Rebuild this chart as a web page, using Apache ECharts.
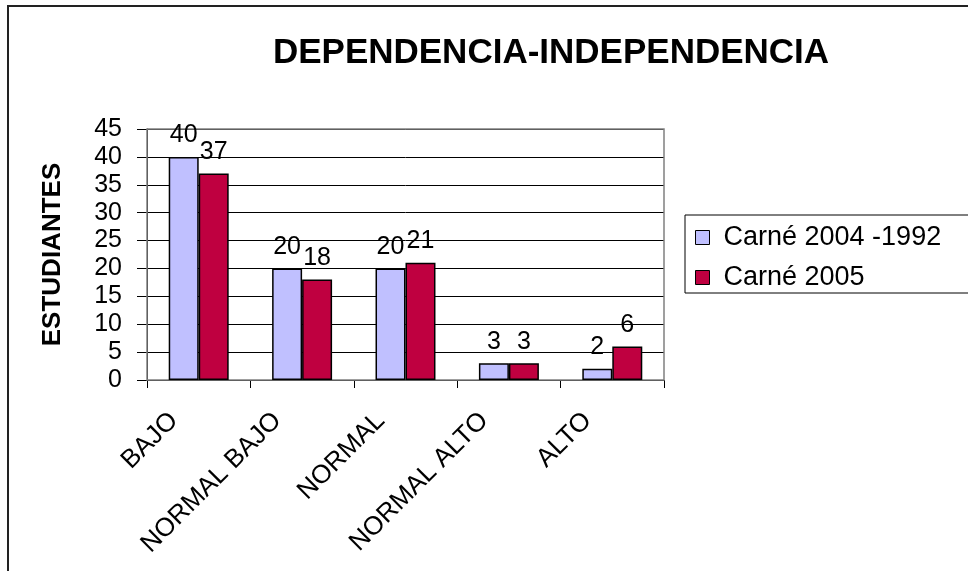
<!DOCTYPE html>
<html lang="es">
<head>
    <meta charset="UTF-8">
    <title>Dependencia-Independencia</title>
    <style>
        html, body { margin: 0; padding: 0; background: white; }
        #chart { width: 968px; height: 571px; }
    </style>
    <script src="https://cdn.jsdelivr.net/npm/echarts@6/dist/echarts.min.js"></script>
</head>
<body>
<div id="chart"></div>
<script>
    // datos
    const categorias = ['BAJO', 'NORMAL BAJO', 'NORMAL', 'NORMAL ALTO', 'ALTO'];
    const carne2004 = [40, 20, 20, 3, 2];
    const carne2005 = [37, 18, 21, 3, 6];
    const nombres = ['Carné 2004 -1992', 'Carné 2005'];

    const fuente = 'Liberation Sans, Arial, sans-serif';
    const chart = echarts.init(document.getElementById('chart'), null, {renderer: 'canvas'});

    function serie(nombre, datos, color) {
        return {
            name: nombre,
            type: 'bar',
            data: datos,
            barGap: '0%',
            barCategoryGap: '42%',
            itemStyle: {color: color, borderColor: '#000', borderWidth: 1.5},
            label: {
                show: true, position: 'top', distance: 9,
                color: '#000', fontFamily: fuente, fontSize: 25
            }
        };
    }

    chart.setOption({
        animation: false,
        textStyle: {fontFamily: fuente},
        title: {
            text: 'DEPENDENCIA-INDEPENDENCIA',
            left: 546, top: 31, textAlign: 'center',
            textStyle: {fontFamily: fuente, fontSize: 35, fontWeight: 'bold', color: '#000'}
        },
        graphic: [
            {type: 'rect', shape: {x: 8, y: 6, width: 1000, height: 600},
                style: {fill: 'none', stroke: '#222', lineWidth: 2}, silent: true},
            {type: 'rect', shape: {x: 685, y: 215, width: 300, height: 78},
                style: {fill: 'none', stroke: '#000', lineWidth: 1}, silent: true},
            {type: 'rect', shape: {x: 147, y: 129, width: 517, height: 251},
                style: {fill: 'none', stroke: '#808080', lineWidth: 1.5}, silent: true, z: 1}
        ],
        legend: {
            orient: 'vertical',
            left: 695, top: 224, padding: 0,
            itemWidth: 14, itemHeight: 14, itemGap: 13,
            icon: 'rect',
            data: nombres,
            textStyle: {fontFamily: fuente, fontSize: 27, color: '#000', padding: [0, 0, 0, 9]},
            itemStyle: {borderColor: '#000', borderWidth: 1}
        },
        grid: {left: 147, right: 304, top: 129, bottom: 191},
        xAxis: {
            type: 'category',
            data: categorias,
            axisLine: {lineStyle: {color: '#000', width: 1}},
            axisTick: {show: true, length: 8, lineStyle: {color: '#000'}},
            axisLabel: {
                rotate: 45, fontSize: 26, color: '#000', fontFamily: fuente,
                margin: 12, interval: 0, padding: [0, 35, 0, 0]
            }
        },
        yAxis: {
            type: 'value',
            min: 0, max: 45, interval: 5,
            name: 'ESTUDIANTES',
            nameLocation: 'middle',
            nameGap: 81,
            nameTextStyle: {fontFamily: fuente, fontSize: 26, fontWeight: 'bold', color: '#000'},
            axisLine: {show: true, lineStyle: {color: '#000', width: 1}},
            axisTick: {show: true, length: 10, lineStyle: {color: '#000'}},
            axisLabel: {fontSize: 25, color: '#000', fontFamily: fuente, margin: 25},
            splitLine: {lineStyle: {color: '#000', width: 1}}
        },
        series: [
            serie(nombres[0], carne2004, '#C0C0FF'),
            serie(nombres[1], carne2005, '#BF0040')
        ]
    });
</script>
</body>
</html>
